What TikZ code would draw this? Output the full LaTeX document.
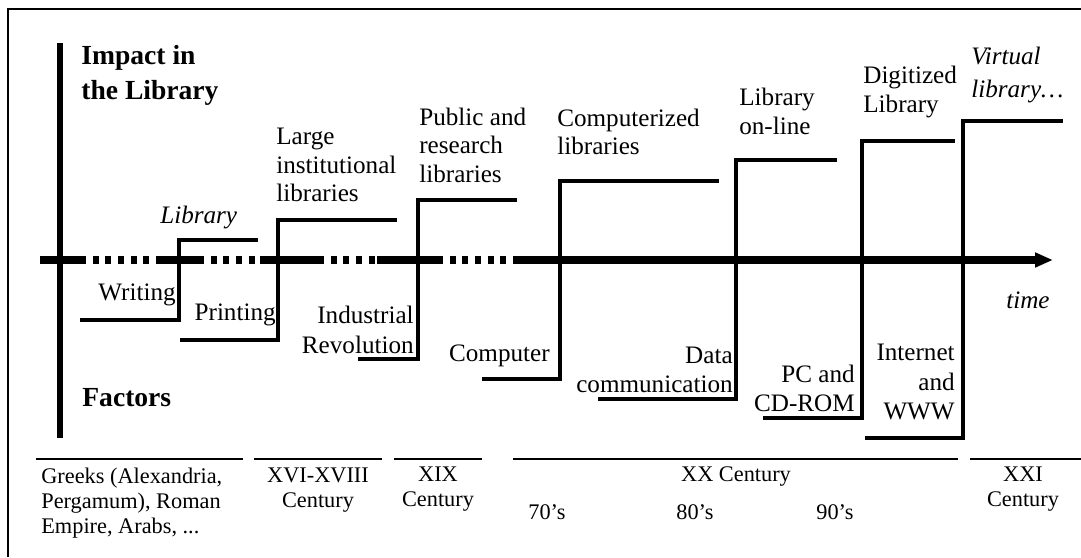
\documentclass[tikz,border=0pt]{standalone}
\usepackage{fontspec}
\setmainfont{Liberation Serif}
\usepackage{tikz}
\usetikzlibrary{arrows.meta,positioning}

\begin{document}
\begin{tikzpicture}[
  stepline/.style={line width=2.3pt},
  axisline/.style={line width=4pt},
  axisdots/.style={line width=4pt, dash pattern=on 3.4pt off 3.8pt},
  eraline/.style={line width=1.4pt},
  up/.style={anchor=west, align=left, inner sep=0pt, font=\fontsize{14.3}{16.2}\selectfont},
  down/.style={anchor=east, align=right, inner sep=0pt, font=\fontsize{14.3}{16.8}\selectfont},
  cent/.style={align=center, inner sep=0pt, font=\fontsize{12.7}{14.2}\selectfont},
  head/.style={anchor=west, align=left, inner sep=0pt, font=\fontsize{15.7}{19.9}\selectfont\bfseries}
]
\useasboundingbox (0,0) rectangle (21.62,11.14);
% frame (left and top only)
\draw[line width=0.85pt] (0.16,0) -- (0.16,10.96) -- (21.62,10.96);

% vertical axis
\draw[line width=3.4pt] (1.2,2.38) -- (1.2,10.28);
% time axis, solid and dotted parts
\draw[axisline] (0.8,5.94) -- (1.6,5.94);
\draw[axisdots] (1.6,5.94) -- (3.16,5.94);
\draw[axisline] (3.16,5.94) -- (3.96,5.94);
\draw[axisdots] (3.96,5.94) -- (5.2,5.94);
\draw[axisline] (5.2,5.94) -- (6.36,5.94);
\draw[axisdots] (6.36,5.94) -- (7.54,5.94);
\draw[axisline] (7.54,5.94) -- (8.74,5.94);
\draw[axisdots] (8.74,5.94) -- (10.34,5.94);
\draw[axisline, -{Triangle[length=3.6mm,width=2.8mm]}] (10.34,5.94) -- (21.06,5.94);
\node[inner sep=0pt, font=\fontsize{14.3}{16.2}\selectfont\itshape] (time) at (20.56,5.14) {time};

% headings
\node[head] (impact) at (1.62,9.63) {Impact in\\the Library};
\node[head] (factors) at (1.64,3.18) {Factors};

% steps: factor below, impact above
\draw[stepline] (1.6,4.74) -- (3.58,4.74) -- (3.58,6.34) -- (5.16,6.34);
\draw[stepline] (3.6,4.34) -- (5.56,4.34) -- (5.56,6.74) -- (7.94,6.74);
\draw[stepline] (7.16,3.96) -- (8.36,3.96) -- (8.36,7.14) -- (10.34,7.14);
\draw[stepline] (9.64,3.56) -- (11.2,3.56) -- (11.2,7.52) -- (14.38,7.52);
\draw[stepline] (11.96,3.16) -- (14.72,3.16) -- (14.72,7.94) -- (16.74,7.94);
\draw[stepline] (15.26,2.78) -- (17.24,2.78) -- (17.24,8.32) -- (19.1,8.32);
\draw[stepline] (17.3,2.38) -- (19.26,2.38) -- (19.26,8.72) -- (21.26,8.72);

% factors
\node[down] (writing) at (3.52,5.24) {Writing};
\node[down] (printing) at (5.52,4.84) {Printing};
\node[down] (industrial) at (8.28,4.54) {Industrial\\Revolution};
\node[down] (computer) at (11.0,4.02) {Computer};
\node[down] (datacom) at (14.66,3.74) {Data\\communication};
\node[down] (pccd) at (17.1,3.37) {PC and\\CD-ROM};
\node[down] (internet) at (19.1,3.5) {Internet\\and\\WWW};

% impacts
\node[up] (library) at (3.2,6.8) {\itshape Library};
\node[up] (large) at (5.52,7.84) {Large\\institutional\\libraries};
\node[up] (public) at (8.38,8.24) {Public and\\research\\libraries};
\node[up] (computerized) at (11.14,8.5) {Computerized\\libraries};
\node[up] (online) at (14.78,8.91) {Library\\on-line};
\node[up] (digitized) at (17.26,9.3) {Digitized\\Library};
\node[up, font=\fontsize{14.3}{19}\selectfont\itshape] (virtual) at (19.42,9.64) {Virtual\\library…};

% eras
\draw[eraline] (0.72,1.96) -- (4.86,1.96);
\draw[eraline] (5.08,1.96) -- (7.64,1.96);
\draw[eraline] (7.88,1.96) -- (9.64,1.96);
\draw[eraline] (10.26,1.96) -- (19.16,1.96);
\draw[eraline] (19.4,1.96) -- (21.62,1.96);
\node[cent, anchor=west, align=left] (greeks) at (0.82,1.08) {Greeks (Alexandria,\\Pergamum), Roman\\Empire, Arabs, ...};
\node[cent] (xvi) at (6.36,1.33) {XVI-XVIII\\Century};
\node[cent] (xix) at (8.76,1.35) {XIX\\Century};
\node[cent] (xx) at (14.72,1.6) {XX Century};
\node[cent] (s70) at (10.94,0.9) {70's};
\node[cent] (s80) at (13.9,0.9) {80's};
\node[cent] (s90) at (16.7,0.9) {90's};
\node[cent] (xxi) at (20.46,1.35) {XXI\\Century};
\end{tikzpicture}
\end{document}
